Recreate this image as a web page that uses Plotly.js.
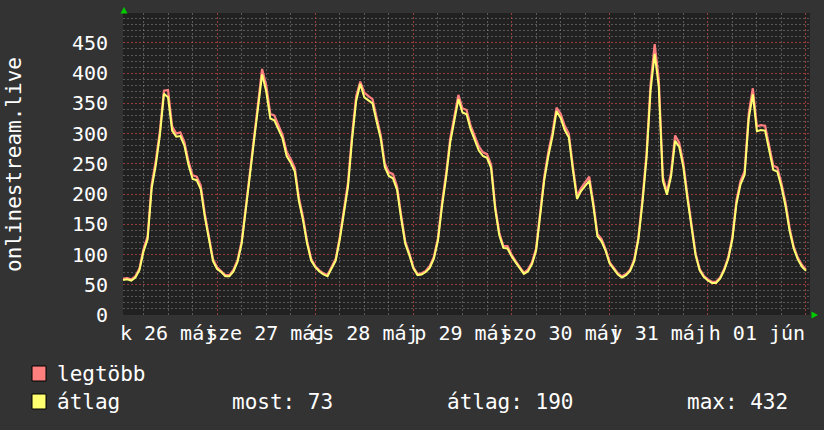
<!DOCTYPE html>
<html>
<head>
<meta charset="utf-8">
<script src="https://cdn.plot.ly/plotly-3.0.1.min.js"></script>
<style>
  html, body { margin: 0; padding: 0; background: #333333; }
  #chart { width: 824px; height: 430px; }
</style>
</head>
<body>
<div id="chart"></div>
<script>
// ---- data ----
const rangeStart = '2015-05-26 00:59';
const rangeEnd = '2015-06-02 00:59';

const atlag = [
  58,59,57,62,74,105,125,210,248,297,366,360,305,295,296,280,248,225,223,208,162,124,89,76,
  71,64,64,72,88,118,171,230,287,343,398,370,325,322,306,292,263,252,237,188,157,118,90,79,
  72,67,64,77,90,125,170,212,290,354,382,360,355,350,320,292,245,230,226,207,160,118,99,77,
  66,67,71,78,93,123,180,228,285,320,357,335,332,307,289,272,263,260,243,175,132,111,110,97,
  87,77,68,72,84,106,160,223,263,295,337,326,306,294,240,192,205,213,222,180,130,122,106,85,
  76,67,62,66,73,89,124,185,259,372,432,378,222,199,229,288,278,245,193,143,99,74,63,57,
  53,53,60,74,93,125,184,216,232,325,365,304,306,305,272,240,237,212,180,139,110,92,80,73
];
const legtobb = [
  60,61,59,64,77,109,130,216,255,304,371,372,312,300,302,286,254,231,229,214,167,128,92,79,
  73,66,66,75,91,122,177,237,295,352,407,380,333,330,314,298,270,258,243,194,162,122,93,81,
  74,69,66,79,93,129,176,219,298,362,386,368,362,357,327,298,251,236,233,213,165,122,102,79,
  68,69,73,81,96,127,186,234,292,327,364,342,339,313,295,279,269,266,249,180,136,114,114,100,
  89,79,70,75,87,110,165,229,270,302,343,333,313,300,246,197,210,219,229,186,134,126,109,87,
  78,69,64,68,75,92,128,191,266,382,448,390,228,204,235,297,285,252,199,148,102,76,65,59,
  55,55,62,76,96,129,190,222,238,333,375,312,314,313,279,247,244,218,186,144,113,95,83,75
];
// Hungarian date names used for the day tick labels (e.g. "k 26 máj")
const shortDays = ['v','h','k','sze','cs','p','szo'];
const shortMonths = ['jan','febr','márc','ápr','máj','jún','júl','aug','szept','okt','nov','dec'];
const seriesNames = ['legtöbb','átlag'];
const statsText = ['most: 73','átlag: 190','max: 432'];
const yTitle = 'onlinestream.live';

// ---- build times ----
function fmt(ms){ return new Date(ms).toISOString().slice(0,19).replace('T',' '); }
const t0 = Date.UTC(2015,4,26,1,0,0);
const times = atlag.map((_, i) => fmt(t0 + i*3600000));

const FONT = 'DejaVu Sans Mono';
const RED = '#ff7f7f';
const YEL = '#ffff70';

const traces = [
  { x: times, y: legtobb, type: 'scatter', mode: 'lines',
    name: seriesNames[0], line: { color: RED, width: 2.2 }, hoverinfo: 'skip' },
  { x: times, y: atlag, type: 'scatter', mode: 'lines',
    name: seriesNames[1], line: { color: YEL, width: 2 }, hoverinfo: 'skip' }
];

// pixel -> paper helpers for decorations
const L = 123, R = 810, T = 13, B = 315;
const px = v => (v - L) / (R - L);
const py = v => (B - v) / (B - T);

const gridMinor = 'rgba(125,125,125,0.6)';
const gridMajor = 'rgba(190,70,70,0.75)';

const layout = {
  width: 824, height: 430,
  margin: { l: L, r: 824 - R, t: T, b: 430 - B, pad: 0 },
  paper_bgcolor: '#333333',
  plot_bgcolor: '#212121',
  showlegend: false,
  font: { family: FONT, size: 20, color: '#ffffff' },
  xaxis: {
    type: 'date', range: [rangeStart, rangeEnd],
    tickmode: 'linear', tick0: '2015-05-26 00:00', dtick: 86400000,
    ticklabelmode: 'period', tickformat: '%a %d %b', tickangle: 0,
    ticklabeloverflow: 'allow',
    ticks: '', ticklabelstandoff: 4,
    tickfont: { family: FONT, size: 20, color: '#ffffff' },
    showgrid: true, gridcolor: gridMajor, griddash: '2px,2px', gridwidth: 1,
    minor: { tick0: '2015-05-26 00:00', dtick: 21600000, showgrid: true,
             gridcolor: gridMinor, griddash: '2px,2px', gridwidth: 1 },
    zeroline: false, showline: false
  },
  yaxis: {
    range: [0, 499.5], tickmode: 'linear', tick0: 0, dtick: 50,
    ticks: '', showgrid: true, gridcolor: gridMajor, griddash: '2px,2px', gridwidth: 1,
    minor: { tick0: 0, dtick: 10, showgrid: true, gridcolor: gridMinor,
             griddash: '2px,2px', gridwidth: 1 },
    zeroline: false, showline: false,
    ticklabelstandoff: 14,
    tickfont: { family: FONT, size: 20, color: '#ffffff' }
  },
  shapes: [
    { type: 'path', xref: 'paper', yref: 'paper',
      path: `M ${px(120.5)} ${py(13.5)} L ${px(127.5)} ${py(13.5)} L ${px(124)} ${py(7)} Z`,
      fillcolor: '#00cc00', line: { width: 0 } },
    { type: 'path', xref: 'paper', yref: 'paper',
      path: `M ${px(811.5)} ${py(311.5)} L ${px(811.5)} ${py(318.5)} L ${px(818)} ${py(315)} Z`,
      fillcolor: '#00cc00', line: { width: 0 } },
    { type: 'rect', xref: 'paper', yref: 'paper',
      x0: px(32), x1: px(46), y0: py(381), y1: py(366),
      fillcolor: RED, line: { color: '#000000', width: 1 } },
    { type: 'rect', xref: 'paper', yref: 'paper',
      x0: px(32), x1: px(46), y0: py(409), y1: py(394),
      fillcolor: YEL, line: { color: '#000000', width: 1 } }
  ],
  annotations: [
    { xref: 'paper', yref: 'paper', x: px(14), y: py(165), text: yTitle, textangle: -90,
      showarrow: false, xanchor: 'center', yanchor: 'middle',
      font: { family: FONT, size: 21, color: '#ffffff' } },
    { xref: 'paper', yref: 'paper', x: px(55), y: py(374), text: seriesNames[0],
      showarrow: false, xanchor: 'left', yanchor: 'middle',
      font: { family: FONT, size: 21, color: '#ffffff' } },
    { xref: 'paper', yref: 'paper', x: px(55), y: py(402), text: seriesNames[1],
      showarrow: false, xanchor: 'left', yanchor: 'middle',
      font: { family: FONT, size: 21, color: '#ffffff' } },
    { xref: 'paper', yref: 'paper', x: px(230), y: py(402), text: statsText[0],
      showarrow: false, xanchor: 'left', yanchor: 'middle',
      font: { family: FONT, size: 21, color: '#ffffff' } },
    { xref: 'paper', yref: 'paper', x: px(445), y: py(402), text: statsText[1],
      showarrow: false, xanchor: 'left', yanchor: 'middle',
      font: { family: FONT, size: 21, color: '#ffffff' } },
    { xref: 'paper', yref: 'paper', x: px(685), y: py(402), text: statsText[2],
      showarrow: false, xanchor: 'left', yanchor: 'middle',
      font: { family: FONT, size: 21, color: '#ffffff' } }
  ]
};

const config = {
  staticPlot: true, displayModeBar: false, locale: 'hu',
  locales: { hu: { format: {
    days: ['vasárnap','hétfő','kedd','szerda','csütörtök','péntek','szombat'],
    shortDays: shortDays,
    months: ['január','február','március','április','május','június','július','augusztus','szeptember','október','november','december'],
    shortMonths: shortMonths
  } } }
};

Plotly.newPlot('chart', traces, layout, config);
</script>
</body>
</html>
